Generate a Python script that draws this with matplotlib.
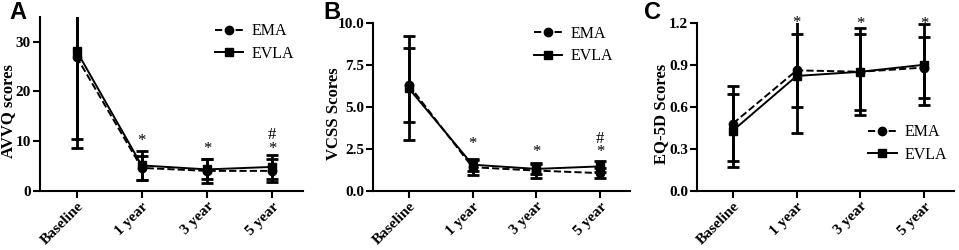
import matplotlib
matplotlib.use("Agg")
import matplotlib.pyplot as plt
import numpy as np

plt.rcParams["font.family"] = ["Liberation Serif", "DejaVu Serif"]

timepoints = ["Baseline", "1 year", "3 year", "5 year"]

# panel A - AVVQ
avvq_ema = [27.0, 4.6, 4.0, 4.0]
avvq_ema_sd = [18.3, 2.4, 2.4, 2.3]
avvq_evla = [28.2, 5.1, 4.3, 4.8]
avvq_evla_sd = [17.8, 2.9, 2.0, 2.4]

# panel B - VCSS
vcss_ema = [6.3, 1.4, 1.2, 1.05]
vcss_ema_sd = [2.2, 0.45, 0.45, 0.3]
vcss_evla = [6.1, 1.55, 1.3, 1.45]
vcss_evla_sd = [3.1, 0.35, 0.3, 0.32]

# panel C - EQ-5D
eq_ema = [0.48, 0.86, 0.85, 0.88]
eq_ema_sd = [0.27, 0.26, 0.31, 0.22]
eq_evla = [0.43, 0.82, 0.85, 0.90]
eq_evla_sd = [0.26, 0.41, 0.27, 0.29]

panels = [
    dict(letter="A", letter_x=0.010, ylabel="AVVQ scores", label_x=-0.12,
         ema=avvq_ema, ema_sd=avvq_ema_sd, evla=avvq_evla, evla_sd=avvq_evla_sd,
         ylim=(0, 35), yticks=[0, 10, 20, 30], fmt="{:.0f}",
         stars=[None, 10.0, 8.4, 8.4], hashes=[None, None, None, 11.2],
         pos=[0.0417, 0.237, 0.274, 0.695], legend=("upper left", (0.64, 1.0))),
    dict(letter="B", letter_x=0.337, ylabel="VCSS Scores", label_x=-0.15,
         ema=vcss_ema, ema_sd=vcss_ema_sd, evla=vcss_evla, evla_sd=vcss_evla_sd,
         ylim=(0, 10), yticks=[0, 2.5, 5, 7.5, 10], fmt="{:.1f}",
         stars=[None, 2.8, 2.3, 2.3], hashes=[None, None, None, 3.1],
         pos=[0.389, 0.237, 0.268, 0.672], legend=("upper left", (0.6, 1.02))),
    dict(letter="C", letter_x=0.672, ylabel="EQ-5D Scores", label_x=-0.142,
         ema=eq_ema, ema_sd=eq_ema_sd, evla=eq_evla, evla_sd=eq_evla_sd,
         ylim=(0, 1.2), yticks=[0, 0.3, 0.6, 0.9, 1.2], fmt="{:.1f}",
         stars=[None, 1.2, 1.19, 1.19], hashes=[None, None, None, None],
         pos=[0.727, 0.237, 0.268, 0.672], legend=("lower left", (0.64, 0.13))),
]

fig = plt.figure(figsize=(9.59, 2.5), dpi=100)
x = np.arange(len(timepoints))

for p in panels:
    ax = fig.add_axes(p["pos"])
    ema = ax.errorbar(x, p["ema"], yerr=p["ema_sd"], color="black", ls="--", lw=1.4,
                      marker="o", ms=6, elinewidth=2, capsize=4.5, capthick=2)
    evla = ax.errorbar(x, p["evla"], yerr=p["evla_sd"], color="black", ls="-", lw=1.4,
                       marker="s", ms=6, elinewidth=2, capsize=4.5, capthick=2)
    for xi, s in zip(x, p["stars"]):
        if s is not None:
            ax.text(xi, s, "*", ha="center", va="center", fontsize=12)
    for xi, h in zip(x, p["hashes"]):
        if h is not None:
            ax.text(xi, h, "#", ha="center", va="center", fontsize=12)

    ax.set_xlim(-0.56, 3.47)
    ax.set_ylim(*p["ylim"])
    ax.set_yticks(p["yticks"])
    ax.set_yticklabels([p["fmt"].format(v) for v in p["yticks"]], fontweight="bold", fontsize=11)
    ax.set_xticks(x)
    ax.set_xticklabels(timepoints, rotation=45, ha="right", rotation_mode="anchor",
                       fontweight="bold", fontsize=11)
    ax.set_ylabel(p["ylabel"], fontweight="bold", fontsize=12, va="center")
    ax.yaxis.set_label_coords(p["label_x"], 0.46)
    for side in ["top", "right"]:
        ax.spines[side].set_visible(False)
    for side in ["left", "bottom"]:
        ax.spines[side].set_linewidth(1.5)
    ax.tick_params(width=1.5, length=5, pad=1.5)

    loc, anchor = p["legend"]
    ax.legend([ema[0], evla[0]], ["EMA", "EVLA"], loc=loc, bbox_to_anchor=anchor,
              frameon=False, fontsize=11.5, handlelength=1.8, handletextpad=0.5,
              labelspacing=0.4, borderaxespad=0)

    fig.text(p["letter_x"], 0.995, p["letter"], fontsize=17, fontweight="bold",
             family="Liberation Sans", va="top")

fig.savefig("out.png", dpi=100)
